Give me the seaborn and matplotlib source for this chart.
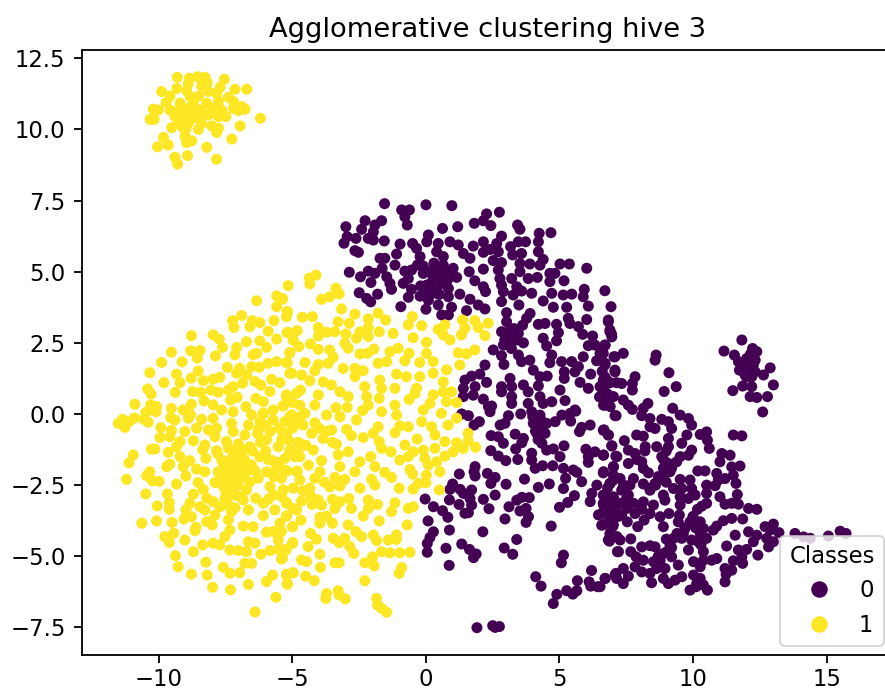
import pandas as pd
import seaborn as sns
import matplotlib
matplotlib.use("Agg")
import matplotlib.pyplot as plt

title_text = "Agglomerative clustering hive 3"
legend_title = "Classes"
class_colors = {"0": "#440154", "1": "#fde725"}

yellow_top = [(-9.31,11.83),(-8.86,11.80),(-8.55,11.85),(-8.27,11.83),(-7.55,11.76),(-8.90,11.60),(-8.19,11.64),(-8.40,11.53),(-7.71,11.48),(-9.33,11.44),(-9.90,11.33),(-7.15,11.41),(-6.71,11.41),(-8.96,11.36),(-8.15,11.33),(-7.84,11.27),(-9.58,11.17),(-8.83,11.15),(-8.52,11.17),(-7.40,11.13),(-9.73,10.94),(-9.21,10.92),(-8.71,10.92),(-8.21,10.92),(-7.77,10.98),(-7.21,10.98),(-10.21,10.71),(-10.02,10.68),(-9.58,10.68),(-9.21,10.68),(-8.90,10.71),(-8.46,10.68),(-8.02,10.74),(-7.65,10.68),(-7.21,10.74),(-6.90,10.80),(-6.77,10.71),(-7.02,10.66),(-10.33,10.35),(-10.18,10.35),(-9.40,10.45),(-9.08,10.45),(-8.71,10.51),(-8.15,10.51),(-7.77,10.45),(-7.49,10.45),(-6.20,10.39),(-9.27,10.21),(-8.90,10.21),(-8.40,10.21),(-9.52,10.06),(-9.08,10.04),(-8.52,10.00),(-8.02,10.12),(-7.77,10.04),(-7.84,9.89),(-6.96,10.12),(-9.83,9.72),(-9.02,9.75),(-8.77,9.60),(-8.96,9.53),(-7.27,9.66),(-9.65,9.45),(-10.05,9.39),(-8.21,9.37),(-8.93,9.08),(-9.40,9.02),(-7.84,8.95),(-9.30,8.78),(-8.9,10.4),(-8.6,10.4),(-9.0,10.0),(-8.8,10.8),(-9.1,10.3),(-8.5,10.5)]

yellow_left = [(-6.34,3.98),(-5.59,4.15),(-5.37,4.03),(-5.59,3.77),(-5.18,3.60),(-5.22,3.42),(-6.90,3.46),(-7.24,3.28),(-7.19,3.04),(-6.50,3.28),(-6.22,3.21),(-6.59,3.07),(-5.69,3.28),(-5.91,2.91),(-5.16,2.87),(-5.59,2.63),(-4.97,2.60),(-8.78,2.75),(-7.97,2.78),(-7.74,2.63),(-7.62,2.34),(-6.72,2.54),(-6.22,2.57),(-5.97,2.34),(-7.09,2.34),(-7.15,2.08),(-6.47,2.08),(-6.34,2.13),(-5.10,2.16),(-9.53,2.17),(-8.81,2.22),(-8.46,2.23),(-8.56,1.96),(-7.88,2.04),(-9.90,1.81),(-9.13,1.83),(-7.44,1.64),(-8.53,1.51),(-10.34,1.45),(-9.34,1.40),(-5.91,1.78),(-5.59,1.84),(-5.19,1.80),(-6.97,1.61),(-6.53,1.66),(-6.24,1.64),(-7.09,1.43),(-6.72,1.37),(-5.03,1.43),(-9.81,1.10),(-9.21,1.10),(-8.79,1.26),(-8.34,1.17),(-7.97,1.22),(-7.72,1.29),(-6.87,1.08),(-6.40,1.14),(-6.18,1.01),(-5.78,1.22),(-5.47,1.10),(-10.42,0.88),(-10.29,0.70),(-9.39,0.76),(-8.74,0.79),(-8.44,0.76),(-8.05,0.84),(-7.78,0.76),(-7.40,0.84),(-7.22,0.96),(-5.84,0.79),(-5.22,0.61),(-4.84,0.73),(-10.90,0.34),(-10.31,0.32),(-10.09,0.26),(-8.31,0.46),(-7.97,0.32),(-7.32,0.49),(-7.07,0.59),(-6.37,0.55),(-6.09,0.43),(-5.34,0.29),(-8.78,0.34),(-10.49,0.05),(-10.11,0.08),(-9.53,0.20),(-9.09,0.14),(-8.81,-0.03),(-7.65,0.14),(-7.22,0.08),(-6.74,0.26),(-6.53,-0.03),(-6.09,0.03),(-5.72,0.14),(-5.03,-0.03),(-11.52,-0.33),(-11.36,-0.19),(-11.27,-0.47),(-11.11,-0.27),(-10.92,-0.14),(-10.56,-0.19),(-10.40,-0.29),(-9.56,-0.13),(-9.40,-0.21),(-8.90,-0.15),(-8.40,-0.19),(-7.97,-0.15),(-7.28,-0.33),(-6.65,-0.39),(-6.22,-0.27),(-5.72,-0.21),(-5.28,-0.27),(-4.91,-0.39),(-9.93,-0.48),(-9.53,-0.58),(-9.03,-0.62),(-8.59,-0.50),(-8.15,-0.56),(-7.84,-0.50),(-7.22,-0.62),(-6.78,-0.74),(-6.28,-0.56),(-5.84,-0.62),(-5.34,-0.68),(-9.96,-0.83),(-9.59,-0.80),(-9.21,-0.97),(-8.71,-0.94),(-7.90,-0.80),(-7.47,-0.97),(-7.03,-1.05),(-6.59,-1.15),(-5.97,-0.91),(-5.16,-0.91),(-10.28,-1.24),(-10.15,-1.23),(-9.34,-1.15),(-8.28,-1.09),(-8.36,-1.26),(-7.84,-1.29),(-7.22,-1.38),(-6.84,-1.26),(-5.53,-1.15),(-5.09,-1.26),(-10.96,-1.44),(-9.65,-1.35),(-9.21,-1.50),(-8.84,-1.64),(-8.24,-1.56),(-7.65,-1.62),(-7.09,-1.67),(-6.22,-1.50),(-5.78,-1.62),(-5.28,-1.56),(-4.78,-1.38),(-11.12,-1.72),(-9.59,-1.76),(-9.71,-1.85),(-9.09,-1.85),(-8.59,-1.94),(-8.28,-2.03),(-7.78,-2.03),(-7.34,-1.97),(-6.90,-1.91),(-6.53,-1.79),(-5.97,-2.03),(-4.84,-2.03),(-10.34,-2.03),(-10.46,-2.17),(-11.21,-2.30),(-10.24,-2.35),(-9.99,-2.37),(-8.99,-2.18),(-9.34,-2.46),(-7.90,-2.41),(-7.40,-2.26),(-7.03,-2.49),(-6.28,-2.26),(-5.41,-2.26),(-4.97,-2.61),(-8.53,-2.41),(-8.34,-2.65),(-7.59,-2.55),(-6.72,-2.67),(-5.84,-2.55),(-5.34,-2.67),(-10.49,-2.81),(-9.68,-2.81),(-8.71,-2.82),(-8.21,-2.96),(-7.53,-2.96),(-6.84,-3.02),(-6.37,-2.96),(-5.72,-2.85),(-9.61,-3.12),(-10.06,-3.23),(-8.84,-3.14),(-8.46,-3.26),(-7.97,-3.08),(-7.72,-3.26),(-7.28,-3.43),(-6.65,-3.37),(-6.09,-3.14),(-5.66,-3.37),(-5.22,-3.14),(-4.84,-3.37),(-9.61,-3.35),(-8.99,-3.37),(-8.28,-3.37),(-5.22,-3.58),(-6.09,-3.57),(-10.64,-3.84),(-10.09,-3.76),(-9.51,-3.81),(-9.06,-3.69),(-8.78,-3.61),(-8.21,-3.78),(-7.90,-3.55),(-7.40,-3.72),(-6.84,-3.94),(-6.47,-3.96),(-5.47,-3.84),(-4.99,-3.96),(-8.61,-3.98),(-8.00,-3.90),(-7.34,-4.08),(-9.44,-4.19),(-8.65,-4.10),(-9.78,-4.31),(-9.61,-4.52),(-9.03,-4.43),(-7.53,-4.31),(-5.97,-4.16),(-5.72,-4.13),(-5.41,-4.13),(-5.53,-4.43),(-8.36,-4.60),(-7.97,-4.54),(-7.72,-4.60),(-6.65,-4.49),(-6.40,-4.54),(-4.99,-4.52),(-8.71,-4.84),(-7.34,-4.78),(-7.03,-4.80),(-6.72,-4.84),(-5.84,-4.80),(-5.53,-4.76),(-5.24,-4.78),(-6.18,-4.93),(-9.38,-4.98),(-5.41,-5.10),(-8.24,-5.21),(-6.78,-5.25),(-6.53,-5.25),(-9.28,-5.37),(-7.59,-5.39),(-7.34,-5.60),(-6.97,-5.58),(-8.78,-5.63),(-8.19,-5.66),(-5.74,-5.66),(-5.22,-5.63),(-4.99,-5.58),(-5.97,-5.89),(-5.18,-5.97),(-6.65,-5.99),(-7.99,-6.09),(-7.32,-6.18),(-5.62,-6.44),(-6.40,-6.96)]

yellow_core = [(-7.6,-1.7),(-7.4,-1.9),(-7.2,-2.1),(-7.0,-1.8),(-6.8,-2.2),(-7.3,-2.3),(-7.5,-2.0),(-6.9,-1.5),(-7.1,-1.4),(-7.7,-2.2),(-6.6,-1.8),(-7.2,-2.6),(-7.8,-1.4),(-6.4,-2.0),(-6.2,-1.0),(-5.0,-0.5),(-4.8,-1.0),(-4.7,-0.1),(-5.0,0.4),(-6.5,-1.3),(-6.0,-1.3),(-5.5,-0.5),(-5.6,-1.9),(-5.2,-2.0),(-5.4,-0.9),(-6.1,0.0),(-6.6,-2.4),(-7.5,-2.7),(-7.0,-2.9),(-7.4,-1.2),(-7.3,-1.6),(-7.0,-2.2),(-6.8,-1.6),(-7.5,-2.4),(-7.15,-1.85),(-7.35,-2.1),(-6.95,-2.05),(-6.7,-2.0),(-7.6,-2.35),(-7.25,-2.85),(-7.4,-3.2),(-7.15,-3.3),(-6.3,-0.7),(-6.0,-0.4),(-5.9,-1.6),(-5.5,-1.7),(-5.7,-2.2),(-4.9,-1.5),(-4.5,-1.1),(-4.4,-1.8),(-3.7,-0.6),(-4.0,-0.5),(-3.5,-1.0),(-5.4,-2.9),(-5.9,-3.0),(-4.3,-2.9),(-4.6,-2.7),(-3.8,-2.4),(-3.5,-3.0)]

yellow_right = [(-4.12,4.88),(-4.37,4.77),(-4.35,4.57),(-5.16,4.51),(-3.37,4.42),(-3.25,4.22),(-3.60,4.12),(-3.91,4.03),(-5.37,4.06),(-3.16,3.69),(-5.20,3.60),(-4.63,3.40),(-4.25,3.42),(-2.66,3.51),(-3.29,3.24),(-2.87,3.19),(-2.16,3.34),(-1.79,3.54),(-1.51,3.30),(-0.66,3.13),(-0.51,3.42),(-0.16,3.10),(1.37,3.30),(1.83,3.28),(2.33,3.19),(1.96,3.04),(-4.03,3.04),(-5.20,2.86),(-4.82,2.93),(-3.72,2.87),(-3.41,2.89),(-3.00,2.81),(-2.47,2.89),(-2.16,3.04),(-1.75,2.89),(-1.23,2.83),(-0.48,2.68),(0.46,2.97),(0.71,3.13),(1.46,3.01),(1.33,2.78),(2.21,2.75),(-4.03,2.74),(-4.97,2.60),(-2.60,2.66),(-2.16,2.72),(-3.04,2.48),(0.65,2.78),(0.90,2.60),(0.02,2.52),(-4.76,2.37),(-4.32,2.46),(-4.03,2.27),(-3.60,2.25),(-2.91,2.31),(-5.10,2.15),(-2.47,2.11),(-2.20,2.13),(-1.95,2.28),(-1.35,2.19),(-1.04,2.31),(-0.63,2.13),(0.02,2.13),(1.21,2.15),(1.83,2.25),(1.52,2.11),(-4.53,1.81),(-5.22,1.81),(-3.66,1.78),(-4.03,1.74),(-3.47,1.99),(-1.79,1.78),(-1.47,1.84),(-0.79,1.87),(-0.23,1.81),(0.27,1.84),(1.27,1.72),(-3.10,1.60),(-2.66,1.60),(-2.35,1.52),(-4.16,1.52),(-5.10,1.43),(-4.66,1.37),(-1.10,1.40),(-0.73,1.31),(-0.23,1.31),(0.27,1.43),(0.77,1.55),(0.65,1.13),(-1.73,1.19),(-2.66,1.31),(-4.35,1.17),(-3.85,1.13),(-3.54,1.02),(-4.70,0.84),(-2.29,0.96),(-1.66,0.90),(-1.16,0.90),(-0.35,0.90),(0.27,0.67),(0.65,0.78),(0.96,0.78),(-3.22,0.78),(-2.91,0.61),(-4.03,0.67),(-5.22,0.67),(-2.22,0.61),(-1.75,0.55),(-0.63,0.51),(-0.41,0.72),(0.15,0.37),(0.77,0.43),(1.15,0.40),(-4.72,0.31),(-4.16,0.31),(-3.37,0.22),(-2.95,0.23),(-5.35,0.28),(-2.16,0.31),(-1.16,0.31),(-0.10,0.14),(0.58,0.02),(-1.66,0.08),(-2.37,0.12),(-1.10,-0.04),(-3.72,-0.04),(-4.53,0.02),(-5.10,-0.10),(-3.22,-0.10),(-2.60,-0.21),(1.15,-0.15),(-0.16,-0.27),(-4.16,-0.31),(-4.60,-0.39),(-1.79,-0.45),(-0.98,-0.42),(-0.66,-0.45),(0.83,-0.39),(0.21,-0.45),(-1.16,-0.66),(-1.97,-0.68),(1.58,-0.68),(-3.53,-0.56),(-2.97,-0.54),(-5.22,-0.68),(-4.28,-0.68),(0.34,-0.74),(-2.35,-0.83),(-2.79,-0.76),(-3.85,-0.86),(-0.33,-0.88),(1.58,-0.94),(0.71,-0.97),(-1.75,-0.97),(-4.72,-1.03),(-3.35,-1.06),(-0.79,-1.09),(1.15,-1.01),(-1.66,-1.21),(1.86,-1.17),(-1.31,-1.33),(1.40,-1.21),(0.34,-1.21),(-0.10,-1.27),(-4.22,-1.27),(-5.10,-1.33),(-2.91,-1.33),(1.02,-1.33),(-0.98,-1.62),(-0.48,-1.33),(-3.29,-1.44),(-2.07,-1.50),(0.71,-1.48),(-4.72,-1.50),(-3.91,-1.64),(-2.47,-1.68),(-0.66,-1.50),(-0.04,-1.56),(-1.91,-1.85),(0.40,-1.68),(-3.22,-1.85),(0.09,-1.79),(-0.60,-1.95),(-3.97,-2.03),(-2.66,-2.03),(-5.28,-1.97),(-4.82,-2.01),(-1.54,-2.05),(-0.50,-2.11),(0.52,-2.03),(-1.29,-2.23),(-2.04,-2.30),(-4.16,-2.26),(-3.41,-2.23),(-3.04,-2.30),(0.02,-2.15),(0.00,-2.42),(-4.72,-2.32),(-3.60,-2.56),(-3.22,-2.53),(-1.91,-2.50),(-2.47,-2.61),(-1.00,-2.61),(-0.29,-2.44),(-0.48,-2.64),(0.50,-2.67),(-4.35,-2.61),(-5.35,-2.67),(-4.03,-3.02),(-2.89,-2.97),(-2.16,-3.02),(-1.16,-3.12),(-4.66,-3.06),(-5.22,-3.11),(-3.22,-3.08),(-1.81,-3.18),(-0.48,-3.26),(-0.66,-3.32),(-4.97,-3.32),(-4.26,-3.18),(-3.91,-3.20),(-3.41,-3.32),(-2.79,-3.32),(-2.16,-3.32),(-1.29,-3.43),(-5.22,-3.59),(-2.35,-3.59),(-3.97,-3.63),(-3.72,-3.59),(-4.68,-3.73),(-1.75,-3.76),(-3.50,-3.84),(-2.91,-3.90),(-3.97,-3.84),(-0.70,-3.90),(-5.00,-3.96),(-4.32,-4.20),(-2.62,-4.14),(-1.97,-4.25),(-2.41,-4.31),(-1.10,-4.25),(-4.10,-4.40),(-3.47,-4.37),(-3.04,-4.37),(-1.11,-4.41),(-1.41,-4.43),(-1.85,-4.45),(-3.25,-4.52),(-5.00,-4.55),(-4.41,-4.66),(-2.85,-4.66),(-5.28,-4.76),(-0.60,-4.86),(-0.98,-4.88),(-1.35,-4.88),(-1.66,-4.84),(-2.70,-4.90),(-3.97,-4.93),(-2.00,-5.02),(-5.37,-5.07),(-4.66,-5.13),(-4.47,-5.19),(-3.41,-5.23),(-3.25,-5.23),(-2.29,-5.23),(-3.95,-5.39),(-1.94,-5.34),(-0.91,-5.40),(-1.00,-5.60),(-4.97,-5.58),(-5.22,-5.66),(-4.51,-5.70),(-4.18,-5.86),(-2.29,-5.86),(-5.20,-5.98),(-3.29,-6.21),(-3.72,-6.31),(-3.75,-6.48),(-3.25,-6.36),(-3.02,-6.50),(-1.85,-6.48),(-1.81,-6.72),(-1.66,-6.83),(-1.47,-6.97)]

purple_top = [(-1.55,7.39),(0.00,7.35),(0.97,7.32),(-0.91,7.17),(-0.62,7.17),(-0.79,6.93),(-0.70,6.64),(2.75,7.09),(2.27,7.03),(2.15,6.79),(1.81,6.70),(2.43,6.62),(1.19,6.58),(0.62,6.52),(-2.28,6.79),(-1.66,6.79),(-1.91,6.64),(-3.00,6.58),(-2.41,6.49),(-1.97,6.40),(3.43,6.64),(3.52,6.49),(4.68,6.37),(4.24,6.35),(-2.95,6.23),(-2.62,6.17),(-2.16,6.17),(-1.97,6.11),(-1.56,6.08),(0.09,6.29),(0.03,6.05),(2.83,6.25),(4.21,6.05),(-3.07,6.00),(-0.97,5.97),(-0.50,5.99),(0.46,5.99),(0.90,6.05),(2.15,6.05),(2.65,5.99),(3.46,6.05),(3.73,6.05),(1.21,5.94),(1.77,5.90),(3.17,5.88),(-2.66,5.74),(-2.53,5.68),(-0.35,5.82),(0.40,5.70),(1.40,5.64),(2.15,5.68),(2.40,5.78),(2.71,5.70),(3.58,5.64),(4.21,5.70),(-1.10,5.62),(-1.72,5.47),(-1.54,5.47),(-0.22,5.53),(0.65,5.53),(1.65,5.47),(3.25,5.59),(-1.16,5.23),(-0.32,5.23),(0.65,5.23),(2.52,5.39),(2.83,5.32),(3.52,5.29),(3.89,5.27),(4.39,5.43),(5.02,5.27),(5.37,5.27),(-1.64,5.12),(-0.54,5.06),(0.27,5.06),(1.02,5.12),(2.15,5.09),(2.71,5.06),(6.02,5.12),(4.27,5.23),(-2.87,4.98),(-2.16,5.02),(-0.79,5.02),(-0.10,4.94),(0.71,4.94),(1.62,5.00),(3.52,5.00),(-2.45,4.82),(-1.91,4.94),(-1.47,4.82),(-0.66,4.76),(0.27,4.76),(1.15,4.80),(2.77,4.76),(3.21,4.76),(3.83,4.76),(4.17,4.80),(4.64,4.94),(4.83,4.94),(-2.06,4.62),(-1.35,4.59),(-0.85,4.59),(1.83,4.68),(0.03,4.53),(0.65,4.59),(4.64,4.65),(5.17,4.68),(2.15,4.47),(3.40,4.47),(2.83,4.53),(-1.29,4.38),(-0.54,4.38),(0.27,4.41),(0.84,4.41),(-2.50,4.26),(-1.81,4.21),(-0.66,4.10),(-0.22,4.14),(0.40,4.24),(1.27,4.21),(2.23,4.30),(2.90,4.30),(3.58,4.32),(3.96,4.24),(4.71,4.24),(5.14,4.18),(5.46,4.21),(5.93,4.38),(6.70,4.33),(5.89,4.12),(-2.22,4.06),(-2.07,3.94),(0.09,4.00),(0.84,4.12),(1.65,4.03),(3.27,4.18),(4.39,3.97),(2.83,3.95),(-0.94,3.77),(0.00,3.68),(0.46,3.83),(0.96,3.75),(1.96,3.83),(2.21,3.69),(1.52,3.63),(3.48,3.83),(4.77,3.75),(5.27,3.75),(6.08,3.79),(6.93,3.77),(0.59,3.48),(0.84,3.48),(3.02,3.56),(3.90,3.53),(5.33,3.36),(6.02,3.32),(6.83,3.30)]

purple_mid = [(3.77,3.36),(3.02,3.24),(3.62,3.12),(4.21,3.15),(4.46,3.18),(4.89,3.15),(5.39,3.18),(5.71,3.07),(2.83,2.89),(3.15,2.95),(3.46,2.83),(6.89,2.95),(4.96,2.86),(5.87,2.80),(6.24,2.74),(6.95,2.81),(3.65,2.50),(3.25,2.66),(2.90,2.42),(4.39,2.66),(4.52,2.39),(4.89,2.57),(6.08,2.40),(6.70,2.42),(6.33,2.42),(2.52,2.25),(2.83,2.05),(3.46,2.07),(5.89,2.01),(6.64,2.13),(7.08,2.01),(4.71,2.07),(2.92,1.74),(3.58,1.84),(3.89,1.89),(2.21,1.72),(4.64,1.80),(5.08,1.84),(5.46,1.84),(6.39,1.87),(6.70,1.72),(4.02,1.54),(4.27,1.31),(4.54,1.33),(5.71,1.66),(5.58,1.48),(5.18,1.48),(7.08,1.54),(6.17,1.40),(1.71,1.33),(2.02,1.40),(2.27,1.11),(1.46,1.19),(3.15,1.25),(6.64,1.19),(5.18,1.25),(5.77,1.11),(7.14,1.10),(1.40,0.90),(1.84,0.96),(2.83,0.96),(3.21,0.96),(3.65,1.02),(4.21,0.99),(6.08,0.90),(6.52,0.96),(1.40,0.61),(1.77,0.66),(2.83,0.78),(3.83,0.78),(2.15,0.52),(3.21,0.61),(4.27,0.61),(5.02,0.84),(6.70,0.61),(2.46,0.28),(3.83,0.37),(4.71,0.43),(5.21,0.47),(4.39,0.37),(5.58,0.14),(6.70,0.31)]

purple_low = [(1.34,0.00),(1.59,-0.06),(1.80,-0.39),(2.00,-0.27),(2.34,0.26),(2.40,0.08),(3.09,-0.06),(2.78,-0.39),(2.96,-0.33),(3.55,0.00),(3.21,0.37),(3.96,0.08),(4.27,-0.04),(4.02,-0.33),(4.52,-0.33),(4.84,-0.27),(5.09,-0.04),(5.40,0.02),(5.61,0.10),(5.42,-0.25),(6.15,-0.39),(5.83,-0.47),(5.75,-0.62),(6.67,-0.56),(6.83,-0.74),(7.08,-0.06),(6.65,0.31),(6.90,0.26),(2.44,-0.76),(2.71,-0.80),(3.34,-0.71),(2.90,-1.03),(3.65,-0.86),(3.59,-1.01),(4.15,-0.68),(4.46,-0.68),(4.34,-1.03),(5.17,-1.12),(6.96,-1.12),(2.43,-1.29),(3.36,-1.23),(4.77,-1.23),(4.52,-1.27),(3.96,-1.38),(5.99,-1.24),(6.33,-1.33),(6.65,-1.44),(7.15,-1.50),(2.71,-1.48),(2.99,-1.64),(3.44,-1.60),(5.02,-1.50),(6.08,-1.50),(6.08,-1.70),(3.96,-1.62),(4.37,-1.82),(4.75,-1.82),(4.09,-1.91),(5.15,-1.91),(5.52,-1.97),(5.65,-2.05),(7.02,-1.85),(1.84,-1.85),(1.80,-2.03),(1.84,-2.18),(1.25,-2.11),(2.30,-2.09),(2.59,-2.23),(6.65,-2.03),(3.69,-2.29),(5.23,-2.26),(5.83,-2.38),(7.02,-2.32),(1.00,-2.46),(2.43,-2.44),(3.00,-2.47),(4.62,-2.46),(6.40,-2.50),(6.90,-2.44),(0.90,-2.65),(1.28,-2.65),(1.71,-2.67),(4.21,-2.58),(5.15,-2.62),(2.59,-2.85),(1.40,-2.79),(6.21,-2.79),(6.71,-2.85),(-0.03,-2.99),(0.88,-3.02),(1.65,-2.97),(2.15,-3.00),(3.87,-2.94),(3.59,-2.93),(3.40,-3.03),(5.56,-2.87),(5.31,-3.11),(6.15,-3.08),(6.96,-2.97),(0.28,-3.26),(1.24,-3.18),(1.71,-3.20),(2.36,-3.33),(3.11,-3.26),(5.00,-3.28),(6.65,-3.20),(7.08,-3.14),(0.62,-3.40),(1.59,-3.47),(1.46,-3.49),(3.52,-3.41),(3.75,-3.32),(6.46,-3.55),(6.83,-3.55),(0.82,-3.63),(3.84,-3.61),(7.15,-3.55),(0.08,-3.76),(2.96,-3.69),(3.75,-3.81),(6.67,-3.88),(7.02,-3.90),(4.69,-3.94),(0.88,-4.08),(0.28,-4.14),(2.13,-4.14),(0.15,-4.34),(6.90,-4.26),(7.15,-4.31),(3.40,-4.41),(1.34,-4.57),(0.05,-4.55),(6.87,-4.47),(0.75,-4.72),(1.63,-4.76),(2.93,-4.71),(0.05,-4.86),(1.88,-4.92),(3.25,-4.93),(1.78,-5.05),(7.17,-4.84),(5.15,-4.96),(5.07,-5.23),(0.87,-5.32),(6.20,-5.50),(7.12,-5.60),(4.11,-5.72),(6.71,-5.78),(5.67,-5.86),(6.11,-5.90),(4.31,-6.05),(6.17,-6.05),(6.43,-6.07),(5.27,-6.21),(5.65,-6.21),(4.90,-6.34),(5.50,-6.33),(4.77,-6.66),(1.91,-7.51),(2.50,-7.44),(2.75,-7.47),(2.59,-7.50)]

purple_right = [(6.83,3.24),(6.89,2.89),(6.96,2.71),(6.71,2.42),(6.52,2.13),(7.39,2.13),(7.04,2.01),(8.62,2.07),(8.58,1.89),(11.16,2.21),(11.83,2.60),(11.55,2.07),(12.23,2.30),(12.39,2.19),(11.70,1.84),(12.01,1.95),(12.33,1.89),(12.89,1.62),(11.74,1.54),(12.01,1.60),(12.26,1.72),(12.33,1.48),(12.64,1.37),(11.95,1.37),(12.20,1.31),(9.10,1.45),(6.71,1.78),(7.08,1.48),(7.83,1.31),(13.01,1.02),(11.86,0.98),(12.20,0.96),(9.37,0.96),(11.49,0.82),(8.92,0.79),(7.33,1.07),(7.73,1.07),(7.73,0.84),(6.77,1.19),(12.14,0.61),(12.39,0.58),(12.79,0.61),(7.02,0.61),(7.39,0.49),(6.71,0.43),(8.31,0.37),(7.58,0.31),(7.73,0.16),(9.24,0.20),(8.14,0.20),(12.61,0.07),(9.52,-0.04),(7.12,-0.06),(8.08,-0.06),(8.39,-0.16),(9.83,-0.16),(8.83,-0.19),(9.08,-0.27),(9.95,-0.39),(8.39,-0.45),(8.58,-0.51),(9.20,-0.51),(6.64,-0.57),(10.27,-0.72),(10.51,-0.63),(11.51,-0.74),(11.83,-0.77),(7.89,-0.74),(8.14,-0.78),(9.77,-0.74),(9.08,-0.86),(6.83,-0.74),(9.58,-1.03),(10.54,-0.92),(7.43,-0.94),(6.96,-1.12),(8.21,-1.15),(8.64,-1.15),(9.08,-1.15),(9.95,-1.27),(10.61,-1.21),(7.58,-1.27),(7.83,-1.39),(11.08,-1.39),(11.39,-1.45),(6.64,-1.45),(7.11,-1.48),(8.83,-1.50),(9.52,-1.50),(9.83,-1.45),(7.58,-1.74),(8.08,-1.68),(9.08,-1.74),(9.39,-1.68),(11.01,-1.68),(11.76,-1.83),(11.45,-1.86),(7.02,-1.86),(8.14,-1.91),(8.89,-1.91),(10.18,-2.00),(10.45,-2.00),(6.64,-2.07),(10.89,-2.09),(9.14,-2.03),(8.33,-2.07),(11.51,-2.15),(7.02,-2.15),(7.27,-2.27),(7.77,-2.27),(8.77,-2.30),(9.52,-2.30),(9.89,-2.32),(10.95,-2.32),(11.20,-2.27),(6.89,-2.44),(8.14,-2.46),(8.58,-2.44),(10.51,-2.50),(10.83,-2.52),(11.61,-2.44),(7.64,-2.50),(9.58,-2.62),(9.27,-2.62),(9.95,-2.62),(7.33,-2.68),(8.39,-2.68),(8.89,-2.85),(6.64,-2.85),(7.58,-2.85),(10.51,-2.79),(11.01,-2.91),(11.66,-2.83),(9.52,-2.91),(9.83,-2.97),(10.08,-2.85),(7.02,-2.91),(8.95,-3.03),(8.14,-3.09),(11.20,-3.17),(11.45,-3.14),(11.70,-3.17),(6.64,-3.14),(7.27,-3.14),(7.77,-3.14),(9.52,-3.20),(10.51,-3.14),(8.52,-3.20),(10.33,-3.24),(6.89,-3.26),(7.52,-3.32),(8.08,-3.35),(12.08,-3.32),(12.39,-3.35),(10.17,-3.35),(6.58,-3.50),(7.02,-3.53),(7.33,-3.55),(7.83,-3.50),(8.39,-3.50),(8.77,-3.61),(9.10,-3.50),(9.49,-3.55),(11.86,-3.69),(11.45,-3.67),(11.14,-3.75),(8.17,-3.73),(7.54,-3.79),(6.89,-3.73),(9.45,-3.79),(9.89,-3.79),(10.27,-3.79),(10.89,-3.94),(8.89,-3.96),(7.93,-3.96),(6.99,-3.96),(6.58,-3.91),(12.70,-3.96),(13.01,-3.87),(9.70,-4.02),(10.39,-4.02),(10.76,-4.08),(12.89,-4.08),(13.22,-4.17),(13.82,-4.20),(14.14,-4.32),(14.39,-4.37),(15.07,-4.29),(15.51,-4.12),(15.73,-4.20),(12.08,-4.14),(12.39,-4.26),(11.58,-4.26),(6.89,-4.20),(9.64,-4.20),(10.27,-4.20),(10.51,-4.37),(6.83,-4.43),(7.27,-4.43),(7.67,-4.39),(12.76,-4.37),(13.01,-4.49),(12.26,-4.49),(9.27,-4.37),(9.58,-4.37),(9.95,-4.43),(9.14,-4.61),(10.20,-4.49),(8.08,-4.67),(8.39,-4.63),(8.58,-4.67),(11.26,-4.64),(12.01,-4.76),(11.70,-4.78),(12.83,-4.67),(7.21,-4.84),(7.67,-4.84),(9.02,-4.84),(9.83,-4.78),(10.39,-4.84),(12.43,-4.96),(7.87,-5.02),(8.14,-5.14),(8.77,-5.14),(9.20,-5.02),(10.89,-5.08),(11.83,-5.02),(10.70,-5.14),(10.39,-5.14),(8.52,-5.19),(10.02,-5.19),(11.51,-5.16),(9.45,-5.31),(11.86,-5.25),(7.83,-5.37),(8.64,-5.43),(8.95,-5.43),(10.27,-5.37),(11.20,-5.43),(11.45,-5.49),(8.08,-5.55),(8.39,-5.60),(7.39,-5.43),(7.08,-5.66),(7.58,-5.70),(9.58,-5.72),(8.89,-5.78),(10.02,-5.66),(11.24,-5.63),(6.71,-5.78),(7.14,-5.78),(7.39,-5.96),(8.45,-5.93),(9.08,-5.96),(9.33,-5.84),(10.27,-5.78),(11.20,-5.90),(10.14,-5.96),(10.39,-6.01),(9.89,-6.19),(10.54,-6.19),(10.12,-6.07),(6.52,-6.07)]

purple_dense = [(0.00,4.30),(0.20,4.60),(0.40,4.40),(0.60,4.70),(0.10,5.00),(0.50,5.00),(0.80,4.70),(-0.20,4.50),(0.30,5.30),(0.90,5.00),(-0.10,5.20),(0.50,4.20),(0.15,4.20),(3.00,2.80),(3.10,2.60),(3.20,2.30),(3.30,3.00),(2.95,2.60),(3.40,2.60),(6.60,0.90),(6.70,1.00),(6.80,0.70),(6.90,1.10),(6.60,1.50),(6.50,0.60),(6.70,1.30),(9.00,-1.30),(8.90,-1.60),(8.95,-2.10),(9.20,-1.90),(9.00,-2.40),(8.70,-2.20),(8.60,-2.50),(8.40,-2.60),(9.00,-4.40),(8.90,-4.90),(9.20,-4.70),(8.70,-5.00),(9.40,-4.20),(9.70,-4.00),(10.00,-3.60),(6.90,-3.00),(7.10,-3.40),(6.80,-2.60),(4.30,-0.40),(4.20,-0.90),(4.00,-0.10),(4.10,-0.60),(4.30,-0.20),(12.10,1.70),(12.20,1.50),(12.00,1.90),(12.15,2.10),(12.00,1.30),(10.3,-4.6),(10.1,-4.0),(7.5,-3.0),(7.2,-3.6),(7.4,-2.5),(8.2,-1.3),(7.9,-1.6)]

purple = purple_top + purple_mid + purple_low + purple_right + purple_dense
yellow = yellow_top + yellow_left + yellow_core + yellow_right
df = pd.DataFrame(
    [(x, y, "0") for x, y in purple] + [(x, y, "1") for x, y in yellow],
    columns=["x", "y", "cls"],
)

W, H = 885, 688
dpi = 138
fig = plt.figure(figsize=(W / dpi, H / dpi), dpi=dpi)
ax = fig.add_axes([82 / W, (H - 655) / H, (893 - 82) / W, 605 / H])

sns.scatterplot(data=df, x="x", y="y", hue="cls", palette=class_colors,
                s=33, linewidth=0, alpha=1, ax=ax, clip_on=True)

ax.set_xlim(-12.88, 17.49)
ax.set_ylim(-8.47, 12.79)
ax.set_xticks([-10, -5, 0, 5, 10, 15])
ax.set_yticks([-7.5, -5, -2.5, 0, 2.5, 5, 7.5, 10, 12.5])
ax.set_xlabel("")
ax.set_ylabel("")
ax.set_title(title_text, fontsize=14.2, pad=7)
ax.tick_params(labelsize=11.9, length=4.4, width=0.95)
ax.tick_params(axis="x", pad=2.6)
ax.tick_params(axis="y", pad=4.2)
for spine in ax.spines.values():
    spine.set_linewidth(0.95)

handles, labels = ax.get_legend_handles_labels()
ax.legend(handles, labels, title=legend_title, loc="lower right",
          markerscale=1.5, handlelength=2.5, handletextpad=0.5,
          fontsize=11.9, title_fontsize=11.9, borderaxespad=0.4)

fig.savefig("out.png", dpi=dpi)
